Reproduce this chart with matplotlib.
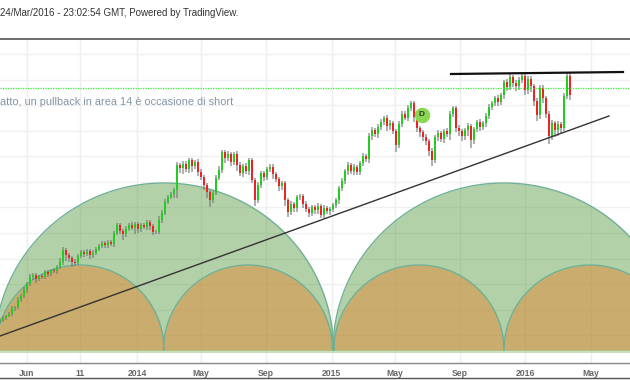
import numpy as np
import matplotlib.pyplot as plt

plt.rcParams['font.family'] = ['Liberation Sans', 'DejaVu Sans']

# bars are spaced evenly (session axis), one entry every 3 units
closes = [60,62,64,66,72,73,80,84,90,96,
          103,105,101,104,103,108,106,110,109,113,
          118,130,125,122,118,117,124,128,126,129,
          125,127,131,134,137,135,138,136,147,155,
          149,146,151,155,152,156,151,155,153,158,
          154,148,148,160,167,178,183,186,190,215,
          212,216,211,220,214,218,208,203,195,188,
          180,187,202,210,228,222,226,218,226,215,
          207,214,209,220,200,180,195,207,203,211,
          213,206,201,194,197,180,168,176,172,183,
          184,176,171,167,173,170,174,165,172,169,
          171,175,180,192,199,209,215,209,213,208,
          217,224,221,244,250,246,253,258,262,254,
          257,249,235,256,266,262,272,277,263,252,
          248,243,239,229,220,243,247,241,249,246,
          266,272,252,249,244,250,254,240,251,258,
          253,257,264,273,277,282,278,285,298,293,
          303,297,294,300,304,290,301,294,279,265,
          292,282,266,244,257,250,256,252,284,304,285]
wick_up = [2,2,1,2,2,1,3,2,3,2,
           3,2,2,1,2,2,2,1,2,2,
           4,3,2,2,2,3,2,2,2,2,
           2,3,2,2,2,2,2,2,2,2,
           2,2,3,2,3,2,2,2,2,2,
           2,2,2,4,3,3,2,2,2,3,
           2,3,3,2,2,2,3,3,2,2,
           2,2,3,4,2,2,3,2,2,3,
           3,2,3,2,2,2,3,2,2,2,
           3,3,2,2,2,2,2,3,2,2,
           2,2,3,2,2,2,3,2,3,2,
           2,2,2,2,3,2,3,2,3,2,
           2,3,2,3,3,2,3,3,2,3,
           3,2,2,3,3,3,3,2,2,2,
           2,2,3,2,3,2,3,2,2,3,
           3,2,2,3,2,2,3,2,2,2,
           3,2,3,3,2,2,3,2,2,3,
           3,2,3,3,2,3,3,3,2,3,
           3,3,2,3,3,2,3,2,3,3,3]
wick_dn = [2,2,2,1,2,3,2,2,2,3,
           2,3,4,2,2,2,3,2,2,3,
           2,3,6,4,5,3,2,2,3,2,
           4,3,2,2,2,3,3,2,3,2,
           3,6,3,2,2,6,4,3,2,3,
           4,3,2,2,3,2,2,2,4,8,
           5,6,3,4,6,3,4,3,5,6,
           7,3,2,2,3,5,3,4,3,6,
           3,4,3,4,3,6,3,3,4,3,
           3,5,3,5,4,6,5,3,4,4,
           3,4,3,4,3,4,4,3,3,3,
           4,3,3,4,3,3,4,3,4,3,
           3,3,3,4,4,3,4,3,3,5,
           4,3,7,3,3,2,3,3,5,4,
           5,4,4,5,6,3,4,3,4,3,
           6,3,4,5,5,4,6,8,4,3,
           4,3,4,3,3,3,4,3,4,4,
           3,4,5,4,3,5,4,6,5,6,
           4,5,4,8,4,7,6,5,3,3,5]

tick_pos = [27, 80, 137, 201, 266, 331.5, 395, 460, 525, 591]
tick_labels = ['Jun', '11', '2014', 'May', 'Sep', '2015', 'May', 'Sep', '2016', 'May']
grid_levels = [326, 300, 275, 249, 224, 198, 173, 147, 121, 96, 70, 45]

# (centre, half width) of the arcs, all share the same base level
big_arcs = [(164, 169.5), (504, 171)]
small_arcs = [(80, 84), (248, 84.5), (419, 85), (590, 86)]
arc_base = 30
big_height = 167
small_height = 85

support = ([0, 609], [44, 264])
resistance = ([451, 623], [306, 308])
hline_level = 292

fig = plt.figure(figsize=(6.3, 3.8), dpi=100)
ax = fig.add_axes([0, 17 / 380, 1, 324 / 380])
ax.set_xlim(0, 630)
ax.set_ylim(17, 341)

for x in tick_pos:
    ax.axvline(x, color='#eeeeee', lw=1, zorder=1)
for y in grid_levels:
    ax.axhline(y, color='#f0f0f0', lw=1, zorder=1)


def draw_arc(cx, half, height, fill, alpha):
    xs = np.linspace(cx - half, cx + half, 300)
    ys = arc_base + height * np.sqrt(np.clip(1 - ((xs - cx) / half) ** 2, 0, 1))
    ax.fill_between(xs, arc_base, ys, color=fill, alpha=alpha, lw=0, zorder=2)
    ax.plot(xs, ys, color='#6fb095', lw=1, zorder=3)


ax.axhspan(27, arc_base, color='#c6e0bc', lw=0, zorder=2)
for cx, half in big_arcs:
    draw_arc(cx, half, big_height, '#5f9f4a', 0.48)
for cx, half in small_arcs:
    draw_arc(cx, half, small_height, '#e08936', 0.5)

# candles
closes = np.array(closes, dtype=float)
xs = np.arange(len(closes)) * 3
opens = np.r_[closes[0] - 1, closes[:-1]]
highs = np.maximum(opens, closes) + np.array(wick_up)
lows = np.minimum(opens, closes) - np.array(wick_dn)
colors = ['#22cc22' if c >= o else '#ee2222' for o, c in zip(opens, closes)]
ax.vlines(xs, lows, highs, color='#777777', lw=1.1, alpha=0.75, zorder=4)
ax.bar(xs, np.abs(closes - opens), bottom=np.minimum(opens, closes), width=1.4,
       color=colors, lw=0, zorder=5)

ax.axhline(hline_level, color='#33ee33', lw=0.9, ls=(0, (1, 1)), zorder=6)
ax.plot(support[0], support[1], color='#333333', lw=1, zorder=6)
ax.plot(resistance[0], resistance[1], color='#111111', lw=1.6, zorder=6)

ax.scatter([421.5], [265.5], s=125, color='#88d850', lw=0, zorder=7)
ax.text(421.5, 265.5, 'D', ha='center', va='center', fontsize=6, fontweight='bold',
        color='#333333', zorder=8)
ax.text(0, 278, 'atto, un pullback in area 14 è occasione di short', ha='left', va='center',
        fontsize=7.9, color='#8496a6', zorder=8)

for side in ['left', 'right']:
    ax.spines[side].set_visible(False)
ax.spines['top'].set_color('#444444')
ax.spines['top'].set_linewidth(1.1)
ax.spines['bottom'].set_color('#888888')
ax.spines['bottom'].set_linewidth(1)
ax.set_yticks([])
ax.set_xticks(tick_pos)
ax.set_xticklabels(tick_labels, fontsize=6.2, fontweight='bold', color='#666666')
ax.tick_params(axis='x', length=0, pad=4)

fig.text(0, 367.5 / 380, '24/Mar/2016 - 23:02:54 GMT, Powered by TradingView.', ha='left',
         va='center', fontsize=7.05, color='#333333')
# dark strip along the very bottom of the image
fig.add_artist(plt.Line2D([0, 1], [2 / 380, 2 / 380], color='#555555', lw=1))

fig.savefig('out.png', dpi=100)
